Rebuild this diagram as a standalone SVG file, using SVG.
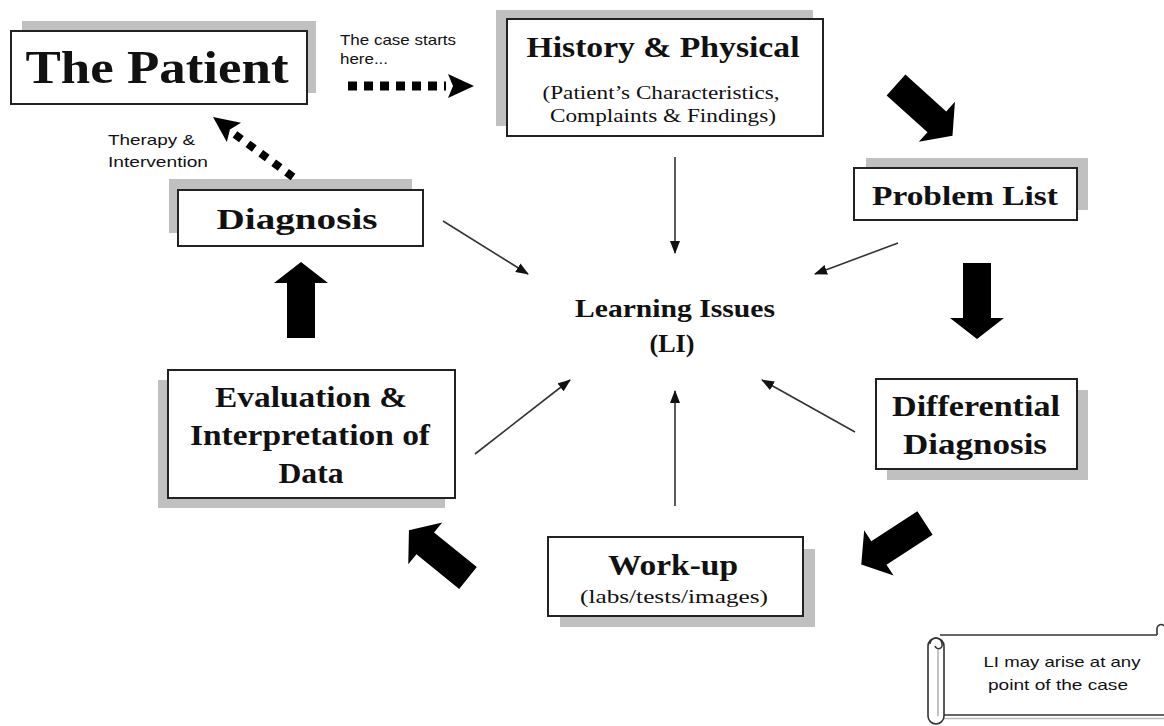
<svg xmlns="http://www.w3.org/2000/svg" xmlns:xlink="http://www.w3.org/1999/xlink" width="1164" height="726" viewBox="0 0 1164 726">
<style>
.box{fill:#fff;stroke:#222;stroke-width:2}
.shadow{fill:#c0c0c0}
.t{font-family:"Liberation Serif","DejaVu Serif",serif;font-weight:bold;fill:#111;text-anchor:middle}
.s{font-family:"Liberation Serif","DejaVu Serif",serif;fill:#111;text-anchor:middle}
.sans{font-family:"Liberation Sans",Arial,sans-serif;fill:#111;font-size:15px}
.thin{stroke:#333;stroke-width:1.6;fill:none;marker-end:url(#ah)}
.big{fill:#000}
.scroll{fill:#fff;stroke:#333;stroke-width:1.6}
</style>
<defs>
<marker id="ah" markerUnits="userSpaceOnUse" markerWidth="14" markerHeight="10" refX="12" refY="5" orient="auto">
<path d="M0,0 L13,5 L0,10 Z" fill="#111"/>
</marker>
<path id="bigArrow" d="M0,-14 H55 V-27 L76,0 L55,27 V14 H0 Z"/>
<path id="dotHead" d="M0,0 L-26,-12 L-21,0 L-26,12 Z"/>
</defs>

<g id="patient">
<rect class="shadow" x="22" y="21" width="294" height="72"/>
<rect class="box" x="11" y="31" width="296" height="73"/>
<text class="t" x="157" y="83" font-size="46" textLength="263" lengthAdjust="spacingAndGlyphs">The Patient</text>
</g>

<g id="history">
<rect class="shadow" x="496" y="10" width="317" height="116"/>
<rect class="box" x="507" y="19" width="316" height="117"/>
<text class="t" x="663" y="57" font-size="29" textLength="273" lengthAdjust="spacingAndGlyphs">History &amp; Physical</text>
<text class="s" x="661" y="99" font-size="19" textLength="237" lengthAdjust="spacingAndGlyphs">(Patient’s Characteristics,</text>
<text class="s" x="663" y="122" font-size="19" textLength="226" lengthAdjust="spacingAndGlyphs">Complaints &amp; Findings)</text>
</g>

<g id="problem">
<rect class="shadow" x="866" y="158" width="222" height="52"/>
<rect class="box" x="854" y="168" width="223" height="52"/>
<text class="t" x="965" y="205" font-size="28" textLength="186" lengthAdjust="spacingAndGlyphs">Problem List</text>
</g>

<g id="diagnosis">
<rect class="shadow" x="169" y="179" width="243" height="54"/>
<rect class="box" x="178" y="190" width="245" height="56"/>
<text class="t" x="297" y="229" font-size="30" textLength="161" lengthAdjust="spacingAndGlyphs">Diagnosis</text>
</g>

<g id="evaluation">
<rect class="shadow" x="158" y="380" width="287" height="128"/>
<rect class="box" x="168" y="370" width="287" height="128"/>
<text class="t" x="311" y="407" font-size="29" textLength="192" lengthAdjust="spacingAndGlyphs">Evaluation &amp;</text>
<text class="t" x="310" y="445" font-size="29" textLength="240" lengthAdjust="spacingAndGlyphs">Interpretation of</text>
<text class="t" x="311" y="483" font-size="29" textLength="65" lengthAdjust="spacingAndGlyphs">Data</text>
</g>

<g id="learning">
<text class="t" x="675" y="317" font-size="25" textLength="200" lengthAdjust="spacingAndGlyphs">Learning Issues</text>
<text class="t" x="672" y="352" font-size="25" textLength="45" lengthAdjust="spacingAndGlyphs">(LI)</text>
</g>

<g id="differential">
<rect class="shadow" x="887" y="390" width="201" height="90"/>
<rect class="box" x="876" y="379" width="201" height="90"/>
<text class="t" x="976" y="416" font-size="29" textLength="168" lengthAdjust="spacingAndGlyphs">Differential</text>
<text class="t" x="975" y="454" font-size="29" textLength="144" lengthAdjust="spacingAndGlyphs">Diagnosis</text>
</g>

<g id="workup">
<rect class="shadow" x="560" y="549" width="255" height="78"/>
<rect class="box" x="548" y="537" width="255" height="79"/>
<text class="t" x="673" y="575" font-size="29" textLength="130" lengthAdjust="spacingAndGlyphs">Work-up</text>
<text class="s" x="674" y="603" font-size="19" textLength="188" lengthAdjust="spacingAndGlyphs">(labs/tests/images)</text>
</g>

<g id="note">
<path class="scroll" d="M940,635 H1157 M944,715 H1164"/>
<path d="M944,718.5 H1164" stroke="#bbb" stroke-width="1.6"/>
<path class="scroll" d="M1157,635 V628 A4,4 0 0 1 1164,626"/>
<rect class="scroll" x="928" y="638" width="16" height="86" rx="8"/>
<path d="M938,650 V716" stroke="#999" stroke-width="1.2" fill="none"/>
<path d="M930,644 A6,6 0 0 1 942,644 A3.5,3.5 0 0 1 935,646" stroke="#333" stroke-width="1.6" fill="none"/>
<text class="sans" x="1062" y="667" text-anchor="middle" textLength="157" lengthAdjust="spacingAndGlyphs">LI may arise at any</text>
<text class="sans" x="1058" y="690" text-anchor="middle" textLength="140" lengthAdjust="spacingAndGlyphs">point of the case</text>
</g>

<g id="labels">
<text class="sans" x="340" y="45" font-size="16" textLength="116" lengthAdjust="spacingAndGlyphs">The case starts</text>
<text class="sans" x="340" y="64" font-size="16" textLength="48" lengthAdjust="spacingAndGlyphs">here...</text>
<text class="sans" x="108" y="145" font-size="16" textLength="87" lengthAdjust="spacingAndGlyphs">Therapy &amp;</text>
<text class="sans" x="108" y="167" font-size="16" textLength="100" lengthAdjust="spacingAndGlyphs">Intervention</text>
</g>

<g id="connectors">
<line x1="348" y1="86" x2="446" y2="86" stroke="#000" stroke-width="9" stroke-dasharray="9,7"/>
<use xlink:href="#dotHead" transform="translate(474,86)" fill="#000"/>
<line x1="293" y1="177" x2="229" y2="130" stroke="#000" stroke-width="8" stroke-dasharray="8,8"/>
<use xlink:href="#dotHead" transform="translate(213,117) rotate(216.3)" fill="#000"/>

<use xlink:href="#bigArrow" class="big" transform="translate(896,85) rotate(42)"/>
<use xlink:href="#bigArrow" class="big" transform="translate(977,263) rotate(90)"/>
<use xlink:href="#bigArrow" class="big" transform="translate(925,523) rotate(147)"/>
<use xlink:href="#bigArrow" class="big" transform="translate(468,578) rotate(219)"/>
<use xlink:href="#bigArrow" class="big" transform="translate(301,338) rotate(-90)"/>

<line class="thin" x1="443" y1="221" x2="528" y2="274"/>
<line class="thin" x1="675" y1="157" x2="675" y2="253"/>
<line class="thin" x1="898" y1="243" x2="815" y2="274"/>
<line class="thin" x1="475" y1="454" x2="570" y2="380"/>
<line class="thin" x1="675" y1="506" x2="675" y2="391"/>
<line class="thin" x1="855" y1="432" x2="762" y2="380"/>
</g>
</svg>
